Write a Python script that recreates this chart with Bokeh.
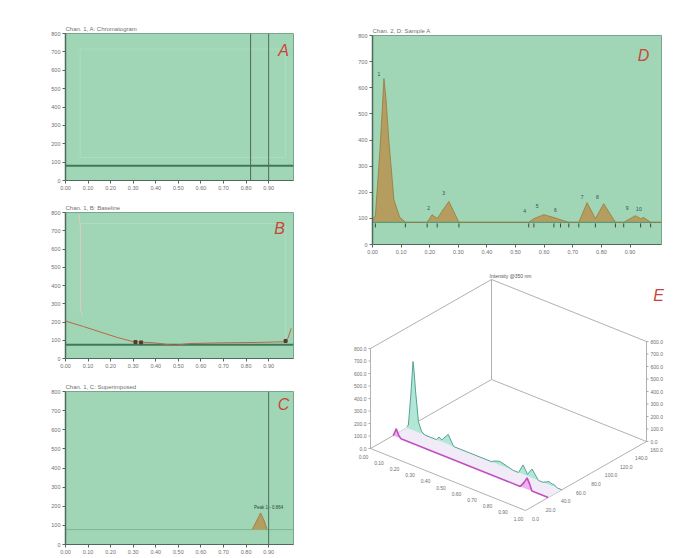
from bokeh.plotting import figure
from bokeh.layouts import row, column
from bokeh.models import Range1d, FixedTicker, Label, Span, Title
from bokeh.core.properties import value
from bokeh.embed import file_html
from bokeh.resources import INLINE

# ---------------- data ----------------
x_ticks = [0.0, 0.1, 0.2, 0.3, 0.4, 0.5, 0.6, 0.7, 0.8, 0.9]
x_tick_labels = ["0.00", "0.10", "0.20", "0.30", "0.40", "0.50", "0.60", "0.70", "0.80", "0.90"]
y_ticks = [0, 100, 200, 300, 400, 500, 600, 700, 800]
y_tick_labels = ["0", "100", "200", "300", "400", "500", "600", "700", "800"]

titles = ["Chan. 1, A: Chromatogram", "Chan. 1, B: Baseline",
          "Chan. 1, C: Superimposed", "Chan. 2, D: Sample A"]
panel_letters = ["A", "B", "C", "D", "E"]

# Panel A
a_baseline = 80
a_markers = [0.82, 0.90]

# Panel B
b_baseline = 75
b_time = [0.0, 0.08, 0.155, 0.23, 0.30, 0.40, 0.48, 0.55, 0.70, 0.85, 0.97, 0.985, 1.0]
b_signal = [205, 175, 145, 115, 92, 85, 72, 82, 86, 88, 92, 110, 165]
b_mark_time = [0.31, 0.335, 0.975]
b_mark_val = [90, 88, 96]

# Panel C
c_baseline = 78
c_marker = 0.90
c_time = [0.827, 0.845, 0.864, 0.880, 0.893]
c_signal = [78, 120, 165, 125, 78]
c_peak_text = "Peak 1 - 0.864"

# Panel D
d_baseline = 85
d_time = [0.000, 0.010, 0.026, 0.040, 0.047, 0.057, 0.075, 0.095, 0.115,
          0.191, 0.208, 0.226, 0.267, 0.302,
          0.546, 0.564, 0.599, 0.634, 0.657, 0.686,
          0.721, 0.750, 0.779, 0.808, 0.849,
          0.878, 0.919, 0.937, 0.948, 0.972, 1.010]
d_signal = [95, 110, 360, 635, 560, 400, 171, 105, 85,
            85, 114, 100, 165, 85,
            85, 99, 114, 103, 95, 85,
            85, 160, 99, 156, 85,
            85, 110, 99, 103, 85, 85]
d_peak_ids = ["1", "2", "3", "4", "5", "6", "7", "8", "9", "10"]
d_peak_time = [0.022, 0.196, 0.249, 0.532, 0.575, 0.639, 0.733, 0.786, 0.890, 0.931]
d_peak_label_y = [654, 140, 199, 127, 146, 131, 181, 180, 140, 136]
d_bounds = [0.010, 0.115, 0.191, 0.226, 0.302, 0.546, 0.564, 0.634, 0.657,
            0.686, 0.721, 0.779, 0.849, 0.878, 0.937, 0.972]

# Panel E (3D view)
e_title = "Intensity @350 nm"
e_time_ticks = [0.0, 0.1, 0.2, 0.3, 0.4, 0.5, 0.6, 0.7, 0.8, 0.9, 1.0]
e_time_labels = ["0.00", "0.10", "0.20", "0.30", "0.40", "0.50", "0.60", "0.70", "0.80", "0.90", "1.00"]
e_wl_ticks = [0, 20, 40, 60, 80, 100, 120, 140, 160]
e_wl_labels = ["0.0", "20.0", "40.0", "60.0", "80.0", "100.0", "120.0", "140.0", "160.0"]
e_z_ticks = [0, 100, 200, 300, 400, 500, 600, 700, 800]
e_z_labels = ["0.0", "100.0", "200.0", "300.0", "400.0", "500.0", "600.0", "700.0", "800.0"]
e_cyan_wl = 48
e_pink_wl = 30
e_pink_time = [0.0, 0.010, 0.020, 0.035, 0.050, 0.820, 0.845, 0.864, 0.880, 0.895, 1.0]
e_pink_val = [0, 30, 65, 20, 0, 0, 45, 90, 50, 0, 0]

# ---------------- style ----------------
FRAME = "#a0d6b5"
LETTER = "#c9463a"
TXT = "#707070"
FONT = "Liberation Sans"
FILL = "#b59c5f"
FILL_LINE = "#98783e"
BASE = "#3f7a58"
GHOST = "#aedcbf"


def panel(w, h, left, right, top, bottom, title):
    p = figure(width=w, height=h, x_range=Range1d(0, 1.01), y_range=Range1d(0, 800),
               output_backend="svg", toolbar_location=None,
               min_border_left=left, min_border_right=right,
               min_border_top=top, min_border_bottom=bottom)
    p.title = Title(text=title, align="left", text_font_size="6px", text_font=FONT,
                    text_font_style="normal", text_color=TXT, standoff=4)
    p.background_fill_color = FRAME
    p.border_fill_color = "white"
    p.outline_line_color = "#78a88b"
    p.grid.visible = False
    for ax in (p.xaxis[0], p.yaxis[0]):
        ax.axis_line_color = "#4d6b5a"
        ax.major_tick_line_color = "#4d6b5a"
        ax.major_tick_in = 0
        ax.major_tick_out = 3
        ax.minor_tick_line_color = None
        ax.major_label_text_font_size = "5.5px"
        ax.major_label_text_font = FONT
        ax.major_label_text_color = TXT
        ax.major_label_standoff = 2
    p.xaxis[0].ticker = FixedTicker(ticks=x_ticks)
    p.xaxis[0].major_label_overrides = {t: l for t, l in zip(x_ticks, x_tick_labels)}
    p.yaxis[0].ticker = FixedTicker(ticks=y_ticks)
    p.yaxis[0].major_label_overrides = {t: l for t, l in zip(y_ticks, y_tick_labels)}
    p.yaxis[0].axis_line_width = 1.5
    return p


def letter(p, txt, x, y):
    p.add_layout(Label(x=x, y=y, text=txt, text_font_size="16px",
                       text_font=FONT, text_font_style="italic", text_color=LETTER,
                       text_align="center", text_baseline="middle"))


# ---- A ----
pa = panel(328, 194, 65, 35, 33, 14, titles[0])
pa.line([0.065, 0.975, 0.975, 0.065, 0.065], [715, 715, 125, 125, 715], line_color=GHOST, line_width=1)
pa.line([0.0, 1.01], [a_baseline, a_baseline], line_color=BASE, line_width=2)
for m in a_markers:
    pa.add_layout(Span(location=m, dimension="height", line_color="#4f6b5d", line_width=1))
letter(pa, panel_letters[0], 0.966, 707)

# ---- B ----
pb = panel(328, 178, 65, 35, 18, 14, titles[1])
pb.line([0.065, 0.975, 0.975], [740, 740, 110], line_color=GHOST, line_width=1)
pb.line([0.06, 0.066, 0.066, 0.075], [790, 720, 270, 235], line_color="#e3c9bf", line_width=1)
pb.line([0.0, 1.01], [b_baseline, b_baseline], line_color=BASE, line_width=2)
pb.line(b_time, b_signal, line_color="#b8674a", line_width=1)
pb.scatter(b_mark_time, b_mark_val, marker="square", size=3, color="#5a3a30")
letter(pb, panel_letters[1], 0.948, 712)

# ---- C ----
pc = panel(328, 186, 65, 35, 19, 14, titles[2])
pc.line([0.0, 1.01], [c_baseline, c_baseline], line_color="#7fb596", line_width=1)
pc.varea(x=c_time, y1=[c_baseline] * len(c_time), y2=c_signal, fill_color=FILL)
pc.line(c_time, c_signal, line_color=FILL_LINE, line_width=0.8)
pc.add_layout(Span(location=c_marker, dimension="height", line_color="#4f6b5d", line_width=1))
pc.text(x=[c_marker], y=[192], text=[c_peak_text], text_font_size=value("4.5px"),
        text_font=value(FONT), text_color="#2c4a3a", text_align="center", text_baseline="middle")
letter(pc, panel_letters[2], 0.966, 732)

# ---- D ----
pd_ = panel(360, 260, 44, 27, 35, 16, titles[3])
pd_.varea(x=d_time, y1=[d_baseline] * len(d_time), y2=d_signal, fill_color=FILL)
pd_.line([0.0, 1.01], [d_baseline, d_baseline], line_color="#5f9a78", line_width=1.2)
pd_.line(d_time, d_signal, line_color=FILL_LINE, line_width=0.8)
pd_.scatter(d_bounds, [d_baseline - 12] * len(d_bounds), marker="dash", angle=1.5708,
            size=4, line_color="#444444", line_width=1)
pd_.text(x=d_peak_time, y=d_peak_label_y, text=d_peak_ids, text_font_size=value("5px"),
         text_font=value(FONT), text_color="#2d4b66", text_align="center", text_baseline="middle")
letter(pd_, panel_letters[3], 0.947, 723)

# ---- E (3D projection) ----
E_W, E_H = 360, 298
pe = figure(width=E_W, height=E_H, x_range=Range1d(0, E_W), y_range=Range1d(E_H, 0),
            output_backend="svg", toolbar_location=None, x_axis_type=None, y_axis_type=None,
            min_border=0, min_border_left=0, min_border_right=0, min_border_top=0, min_border_bottom=0)
pe.outline_line_color = None
pe.grid.visible = False
pe.background_fill_color = "white"

LB = (42.0, 188.0)
TV = (155.0, 62.0)
WV = (121.0, -69.0)
ZH = 100.0
T_MAX, W_MAX, Z_MAX = 1.0, 160.0, 800.0


def proj(t, w, z):
    return (LB[0] + t / T_MAX * TV[0] + w / W_MAX * WV[0],
            LB[1] + t / T_MAX * TV[1] + w / W_MAX * WV[1] - z / Z_MAX * ZH)


edges = [((0, 0, 0), (0, 0, Z_MAX)), ((0, 0, Z_MAX), (0, W_MAX, Z_MAX)),
         ((0, W_MAX, Z_MAX), (T_MAX, W_MAX, Z_MAX)), ((0, W_MAX, 0), (0, W_MAX, Z_MAX)),
         ((0, 0, 0), (0, W_MAX, 0)), ((0, W_MAX, 0), (T_MAX, W_MAX, 0)),
         ((T_MAX, W_MAX, 0), (T_MAX, W_MAX, Z_MAX)), ((0, 0, 0), (T_MAX, 0, 0)),
         ((T_MAX, 0, 0), (T_MAX, W_MAX, 0))]
ex0, ey0, ex1, ey1 = [], [], [], []
for a, b in edges:
    pa_ = proj(*a)
    pb_ = proj(*b)
    ex0.append(pa_[0]); ey0.append(pa_[1]); ex1.append(pb_[0]); ey1.append(pb_[1])
pe.segment(ex0, ey0, ex1, ey1, line_color="#a8a8a8", line_width=0.9)

zl = [proj(0, 0, z) for z in e_z_ticks]
zr = [proj(T_MAX, W_MAX, z) for z in e_z_ticks]
pe.segment([q[0] - 2 for q in zl], [q[1] for q in zl], [q[0] for q in zl], [q[1] for q in zl],
           line_color="#a8a8a8")
pe.segment([q[0] for q in zr], [q[1] for q in zr], [q[0] + 2 for q in zr], [q[1] for q in zr],
           line_color="#a8a8a8")
pe.text(x=[q[0] - 4 for q in zl], y=[q[1] for q in zl], text=e_z_labels, text_align="right",
        text_baseline="middle", text_font_size=value("5px"), text_font=value(FONT), text_color=TXT)
pe.text(x=[q[0] + 4 for q in zr], y=[q[1] for q in zr], text=e_z_labels, text_align="left",
        text_baseline="middle", text_font_size=value("5px"), text_font=value(FONT), text_color=TXT)
tl = [proj(t, 0, 0) for t in e_time_ticks]
pe.text(x=[q[0] - 7 for q in tl], y=[q[1] + 8 for q in tl], text=e_time_labels, text_align="center",
        text_baseline="middle", text_font_size=value("5px"), text_font=value(FONT), text_color=TXT)
wl = [proj(T_MAX, w, 0) for w in e_wl_ticks]
pe.text(x=[q[0] + 10 for q in wl], y=[q[1] + 8 for q in wl], text=e_wl_labels, text_align="center",
        text_baseline="middle", text_font_size=value("5px"), text_font=value(FONT), text_color=TXT)

strip = [proj(0, e_pink_wl, 0), proj(T_MAX, e_pink_wl, 0), proj(T_MAX, e_cyan_wl, 0), proj(0, e_cyan_wl, 0)]
pe.patch([q[0] for q in strip], [q[1] for q in strip], fill_color="#f1eaf7", line_color=None)

cy = [max(v - d_baseline, 0) for v in d_signal]
ct = [min(t, T_MAX) for t in d_time]
top = [proj(t, e_cyan_wl, z) for t, z in zip(ct, cy)]
bot = [proj(t, e_cyan_wl, 0) for t in ct]
poly = top + bot[::-1]
pe.patch([q[0] for q in poly], [q[1] for q in poly], fill_color="#b4e6d8", line_color=None)
pe.line([q[0] for q in top], [q[1] for q in top], line_color="#4fa58f", line_width=1)

ptop = [proj(t, e_pink_wl, z) for t, z in zip(e_pink_time, e_pink_val)]
pbot = [proj(t, e_pink_wl, 0) for t in e_pink_time]
ppoly = ptop + pbot[::-1]
pe.patch([q[0] for q in ppoly], [q[1] for q in ppoly], fill_color="#eeb0ee", line_color=None)
pe.line([q[0] for q in ptop], [q[1] for q in ptop], line_color="#c04fc0", line_width=1.6)

bt = proj(0, W_MAX, Z_MAX)
pe.text(x=[bt[0] + 19], y=[bt[1] - 4], text=[e_title], text_align="center", text_baseline="middle",
        text_font_size=value("5px"), text_font=value(FONT), text_color="#555555")
rt = proj(T_MAX, W_MAX, Z_MAX)
pe.text(x=[rt[0] + 12], y=[rt[1] - 46], text=[panel_letters[4]], text_align="center",
        text_baseline="middle", text_font_size=value("16px"), text_font=value(FONT),
        text_font_style="italic", text_color=LETTER)

layout = row(column(pa, pb, pc), column(pd_, row(pe)))
open("out.html", "w").write(file_html(layout, INLINE))
